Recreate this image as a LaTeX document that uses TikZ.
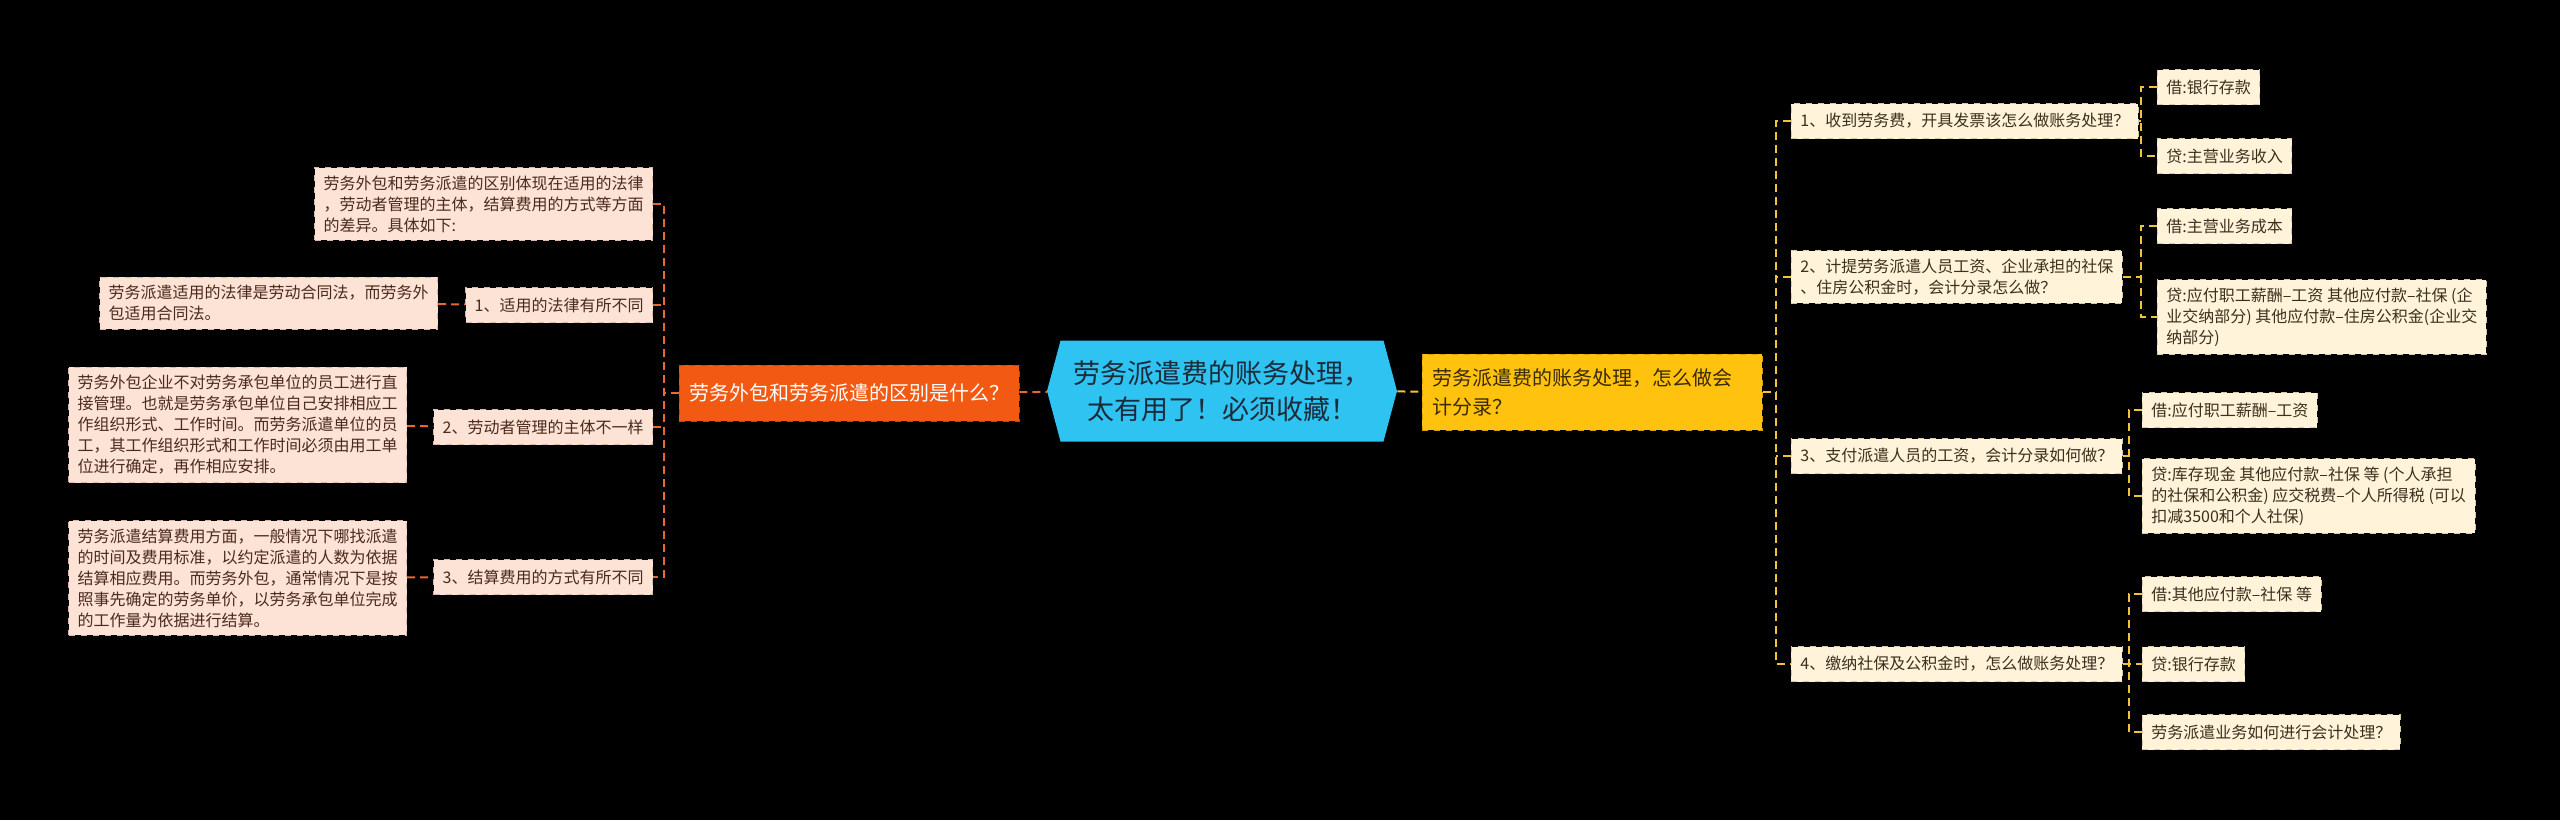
\documentclass[tikz,border=0pt]{standalone}
\usepackage{fontspec}
\setmainfont{Noto Sans CJK SC}
\usepackage{tikz}
\usetikzlibrary{shapes.symbols, positioning}

\definecolor{rootcyan}{HTML}{2EC3F1}
\definecolor{roottext}{HTML}{1B2B3A}
\definecolor{whyfill}{HTML}{F25A14}
\definecolor{whyline}{HTML}{C94408}
\definecolor{howfill}{HTML}{FFC20E}
\definecolor{howline}{HTML}{D99E00}
\definecolor{howtext}{HTML}{3A2A05}
\definecolor{peach}{HTML}{FDE3D5}
\definecolor{peachline}{HTML}{D9B8A6}
\definecolor{peachtext}{HTML}{4A2A1C}
\definecolor{cream}{HTML}{FFF3D9}
\definecolor{creamline}{HTML}{D9C9A6}
\definecolor{creamtext}{HTML}{3B2F1E}
\definecolor{orangelink}{HTML}{E8682F}
\definecolor{yellowlink}{HTML}{F2C23A}

\begin{document}
\begin{tikzpicture}[
  x=0.5pt, y=-0.5pt,
  leafL/.style={draw=peachline, dashed, fill=peach, text=peachtext,
    font=\fontsize{8}{10.5}\selectfont, align=left,
    inner xsep=4.5pt, inner ysep=4pt, minimum height=17.5pt},
  leafR/.style={leafL, draw=creamline, fill=cream, text=creamtext},
  whybox/.style={draw=whyline, dashed, fill=whyfill, text=white,
    font=\fontsize{10}{13}\selectfont, inner xsep=5pt,
    minimum width=170pt, minimum height=28pt},
  howbox/.style={draw=howline, dashed, fill=howfill, text=howtext,
    font=\fontsize{10}{14.5}\selectfont, align=left, text width=160pt,
    inner xsep=5pt, minimum height=38pt},
  rootbox/.style={signal, signal to=east and west, signal pointer angle=150,
    fill=rootcyan, text=roottext, font=\fontsize{13.5}{18}\selectfont,
    align=center, minimum width=175pt, minimum height=50.5pt},
  linkL/.style={draw=orangelink, line width=1pt, dash pattern=on 4pt off 2.5pt},
  linkR/.style={linkL, draw=yellowlink}
]
\fill[black] (0,0) rectangle (2560,820);
\useasboundingbox (0,0) rectangle (2560,820);

% centre and the two main branches
\node[rootbox] (root) at (1222,391) {劳务派遣费的账务处理，\\太有用了！必须收藏！};
\node[whybox] (why) at (849,393) {劳务外包和劳务派遣的区别是什么？};
\node[howbox, anchor=west] (howto) at (1422,392) {劳务派遣费的账务处理，怎么做会\\计分录？};

% left side
\node[leafL, anchor=east] (intro) at (653,204) {劳务外包和劳务派遣的区别体现在适用的法律\\，劳动者管理的主体，结算费用的方式等方面\\的差异。具体如下:};
\node[leafL, anchor=east] (law) at (653,305) {1、适用的法律有所不同};
\node[leafL, anchor=east] (lawtxt) at (438,303) {劳务派遣适用的法律是劳动合同法，而劳务外\\包适用合同法。};
\node[leafL, anchor=east] (mgr) at (653,427) {2、劳动者管理的主体不一样};
\node[leafL, anchor=east] (mgrtxt) at (407,425) {劳务外包企业不对劳务承包单位的员工进行直\\接管理。也就是劳务承包单位自己安排相应工\\作组织形式、工作时间。而劳务派遣单位的员\\工，其工作组织形式和工作时间必须由用工单\\位进行确定，再作相应安排。};
\node[leafL, anchor=east] (fee) at (653,577) {3、结算费用的方式有所不同};
\node[leafL, anchor=east] (feetxt) at (407,578) {劳务派遣结算费用方面，一般情况下哪找派遣\\的时间及费用标准，以约定派遣的人数为依据\\结算相应费用。而劳务外包，通常情况下是按\\照事先确定的劳务单价，以劳务承包单位完成\\的工作量为依据进行结算。};

% right side
\node[leafR, anchor=west] (q1) at (1791,121) {1、收到劳务费，开具发票该怎么做账务处理？};
\node[leafR, anchor=west] (q1a) at (2157,87) {借:银行存款};
\node[leafR, anchor=west] (q1b) at (2157,156) {贷:主营业务收入};
\node[leafR, anchor=west] (q2) at (1791,277) {2、计提劳务派遣人员工资、企业承担的社保\\、住房公积金时，会计分录怎么做？};
\node[leafR, anchor=west] (q2a) at (2157,226) {借:主营业务成本};
\node[leafR, anchor=west] (q2b) at (2157,317) {贷:应付职工薪酬–工资 其他应付款–社保 (企\\业交纳部分) 其他应付款–住房公积金(企业交\\纳部分)};
\node[leafR, anchor=west] (q3) at (1791,456) {3、支付派遣人员的工资，会计分录如何做？};
\node[leafR, anchor=west] (q3a) at (2142,410) {借:应付职工薪酬–工资};
\node[leafR, anchor=west] (q3b) at (2142,496) {贷:库存现金 其他应付款–社保 等 (个人承担\\的社保和公积金) 应交税费–个人所得税 (可以\\扣减3500和个人社保)};
\node[leafR, anchor=west] (q4) at (1791,664) {4、缴纳社保及公积金时，怎么做账务处理？};
\node[leafR, anchor=west] (q4a) at (2142,594) {借:其他应付款–社保 等};
\node[leafR, anchor=west] (q4b) at (2142,664) {贷:银行存款};
\node[leafR, anchor=west] (q4c) at (2142,732) {劳务派遣业务如何进行会计处理？};

% trunks
\coordinate (ltrunk) at (664,0);
\coordinate (rtrunk) at (1776,0);
\coordinate (q12trunk) at (2141,0);
\coordinate (q34trunk) at (2129,0);

\draw[linkL] (why) -- (root);
\draw[linkR] (root) -- (howto);

\draw[linkL] (why.west) -- (why.west -| ltrunk);
\draw[linkL] (intro.east) -| (ltrunk |- fee.east) -- (fee.east);
\draw[linkL] (law.east) -- (law.east -| ltrunk);
\draw[linkL] (mgr.east) -- (mgr.east -| ltrunk);
\draw[linkL] (lawtxt) -- (law);
\draw[linkL] (mgrtxt) -- (mgr);
\draw[linkL] (feetxt) -- (fee);

\draw[linkR] (howto.east) -- (howto.east -| rtrunk);
\draw[linkR] (q1.west) -| (rtrunk |- q4.west) -- (q4.west);
\draw[linkR] (q2.west) -- (q2.west -| rtrunk);
\draw[linkR] (q3.west) -- (q3.west -| rtrunk);

\draw[linkR] (q1.east) -- (q1.east -| q12trunk);
\draw[linkR] (q1a.west) -| (q12trunk |- q1b.west) -- (q1b.west);
\draw[linkR] (q2.east) -- (q2.east -| q12trunk);
\draw[linkR] (q2a.west) -| (q12trunk |- q2b.west) -- (q2b.west);
\draw[linkR] (q3.east) -- (q3.east -| q34trunk);
\draw[linkR] (q3a.west) -| (q34trunk |- q3b.west) -- (q3b.west);
\draw[linkR] (q4.east) -- (q4b.west);
\draw[linkR] (q4a.west) -| (q34trunk |- q4c.west) -- (q4c.west);
\end{tikzpicture}
\end{document}
